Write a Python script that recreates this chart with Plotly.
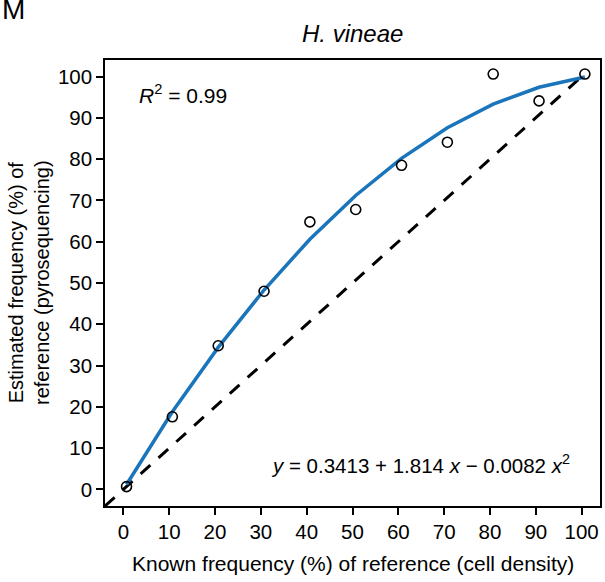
import plotly.graph_objects as go

# Observed points (known vs estimated frequency)
known = [0.7, 10.7, 20.7, 30.7, 40.7, 50.7, 60.7, 70.7, 80.7, 90.7, 100.7]
estimated = [0.7, 17.6, 34.8, 48.0, 64.8, 67.8, 78.5, 84.1, 100.6, 94.1, 100.6]
# Fitted quadratic values
fitted = [1.2, 18.8, 34.4, 48.3, 60.6, 71.2, 80.2, 87.6, 93.3, 97.4, 99.9]
# 1:1 reference line end points
ref_line = [-4, 101]
ticks = [0, 10, 20, 30, 40, 50, 60, 70, 80, 90, 100]

FONT = "Liberation Sans, Arial, sans-serif"
PLOT_H = 582 - 60 - 76
PLOT_W = 605 - 105 - 3

fig = go.Figure()
fig.add_trace(go.Scatter(x=ref_line, y=ref_line, mode="lines",
                         line=dict(color="black", width=3, dash="13px,11px"),
                         hoverinfo="skip", showlegend=False))
fig.add_trace(go.Scatter(x=known, y=fitted, mode="lines",
                         line=dict(color="#1b75bb", width=3.5),
                         showlegend=False))
fig.add_trace(go.Scatter(x=known, y=estimated, mode="markers",
                         marker=dict(symbol="circle-open", size=10, color="black",
                                     line=dict(width=1.6, color="black")),
                         showlegend=False))

axis_common = dict(range=[-4, 104], tickmode="array", tickvals=ticks,
                   ticks="outside", ticklen=7, tickwidth=1.5, tickcolor="black",
                   showline=True, linewidth=1.5, linecolor="black", mirror=True,
                   showgrid=False, zeroline=False,
                   tickfont=dict(family=FONT, size=20.5, color="black"))

fig.update_layout(
    width=605, height=582,
    margin=dict(l=105, r=3, t=60, b=76),
    plot_bgcolor="white", paper_bgcolor="white",
    xaxis=dict(**axis_common),
    yaxis=dict(**axis_common),
    annotations=[
        dict(text="<i>H. vineae</i>", x=0.5, y=1, xref="paper", yref="paper",
             xanchor="center", yanchor="bottom", yshift=11, showarrow=False,
             font=dict(family=FONT, size=24, color="black")),
        dict(text="M", x=-105 / PLOT_W, y=(PLOT_H + 60 - 9) / PLOT_H,
             xref="paper", yref="paper", xanchor="left", yanchor="middle",
             showarrow=False, font=dict(family=FONT, size=28, color="black")),
        dict(text="Known frequency (%) of reference (cell density)",
             x=0.5, y=0, xref="paper", yref="paper", xanchor="center",
             yanchor="top", yshift=-44, showarrow=False,
             font=dict(family=FONT, size=21, color="black")),
        dict(text="Estimated frequency (%) of<br>reference (pyrosequencing)",
             x=0, y=0.5, xref="paper", yref="paper", xanchor="center",
             yanchor="middle", xshift=-76, textangle=-90, showarrow=False,
             font=dict(family=FONT, size=20, color="black")),
        dict(text="<i>R</i><sup>2</sup> = 0.99", x=3.0, y=95.7, xref="x", yref="y",
             xanchor="left", yanchor="middle", showarrow=False,
             font=dict(family=FONT, size=21, color="black")),
        dict(text="<i>y</i> = 0.3413 + 1.814 <i>x</i> − 0.0082 <i>x</i><sup>2</sup>",
             x=97.8, y=6.2, xref="x", yref="y",
             xanchor="right", yanchor="middle", showarrow=False,
             font=dict(family=FONT, size=20.5, color="black")),
    ],
)

fig.write_html("out.html")
